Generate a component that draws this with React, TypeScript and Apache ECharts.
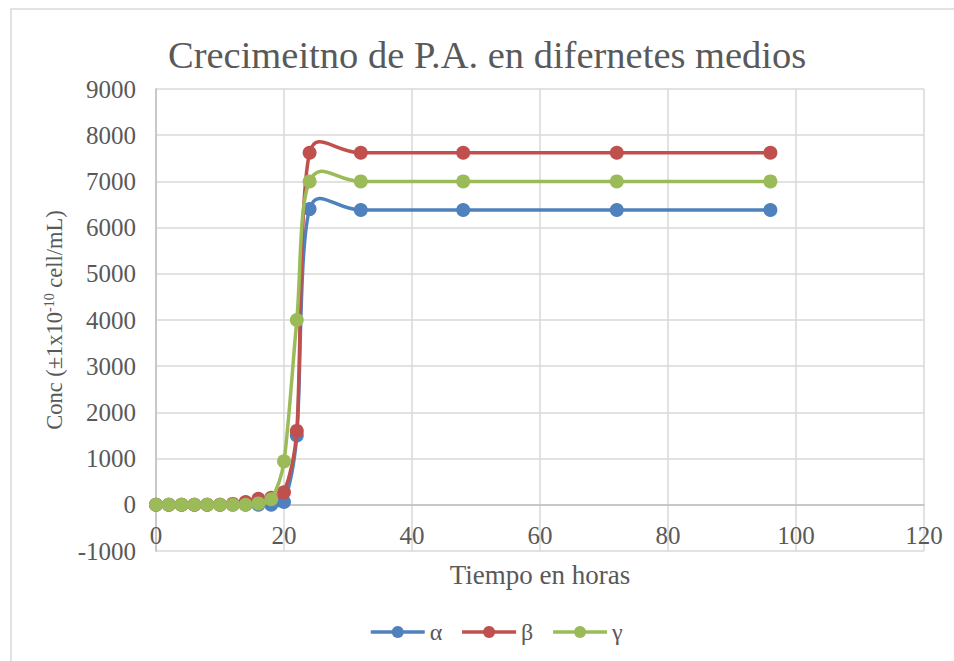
import React, { useEffect, useRef } from "react";
import * as echarts from "echarts";

const hours = [0, 2, 4, 6, 8, 10, 12, 14, 16, 18, 20, 22, 24, 32, 48, 72, 96];
const alpha = [0, 0, 0, 0, 0, 0, 0, 0, 0, 0, 60, 1500, 6400, 6380, 6380, 6380, 6380];
const beta = [0, 0, 0, 0, 0, 0, 20, 60, 130, 150, 270, 1600, 7620, 7620, 7620, 7620, 7620];
const gamma = [0, 0, 0, 0, 0, 0, 0, 0, 30, 120, 940, 4000, 7000, 7000, 7000, 7000, 7000];
const seriesNames = ["α", "β", "γ"];
const colors = ["#4F81BD", "#C0504D", "#9BBB59"];

const FONT = "'Liberation Serif', serif";
const TXT = "#595959";
const Y_MIN = -1000;
const Y_MAX = 9000;
const GRID = { left: 156, right: 30, top: 89, bottom: 110 };
const CHART_H = 661;

export default function App() {
  const ref = useRef<HTMLDivElement>(null);
  useEffect(() => {
    if (!ref.current) return;
    const chart = echarts.init(ref.current, undefined, { renderer: "svg" });
    const all = [alpha, beta, gamma];
    const mk = (vals: number[]) => hours.map((h, i) => [h, vals[i]]);

    // Excel-like smoothed line: Catmull-Rom tension 1/6, arm capped at half segment
    const arm = (from: number[], to: number[], seg: number) => {
      let ax = (to[0] - from[0]) / 6;
      let ay = (to[1] - from[1]) / 6;
      const len = Math.hypot(ax, ay);
      if (len > seg / 2 && len > 0) {
        const s = seg / 2 / len;
        ax *= s;
        ay *= s;
      }
      return [ax, ay];
    };

    const curveSeries = all.map((vals, si) => ({
      name: seriesNames[si] + "-curve",
      type: "custom",
      z: 2 + 2 * si,
      silent: true,
      data: mk(vals),
      encode: { x: 0, y: 1 },
      renderItem: (params: any, api: any) => {
        const i = params.dataIndex;
        const n = hours.length;
        if (i >= n - 1) return null;
        const P = hours.map((h, j) => api.coord([h, vals[j]]));
        const p0 = P[Math.max(i - 1, 0)];
        const p1 = P[i];
        const p2 = P[i + 1];
        const p3 = P[Math.min(i + 2, n - 1)];
        const seg = Math.hypot(p2[0] - p1[0], p2[1] - p1[1]);
        const a1 = arm(p0, p2, seg);
        const a2 = arm(p1, p3, seg);
        return {
          type: "bezierCurve",
          shape: {
            x1: p1[0],
            y1: p1[1],
            x2: p2[0],
            y2: p2[1],
            cpx1: p1[0] + a1[0],
            cpy1: p1[1] + a1[1],
            cpx2: p2[0] - a2[0],
            cpy2: p2[1] - a2[1],
          },
          style: { fill: "none", stroke: colors[si], lineWidth: 3.5, lineCap: "round" },
        };
      },
    }));

    const markerSeries = all.map((vals, si) => ({
      name: seriesNames[si],
      type: "line",
      data: mk(vals),
      z: 3 + 2 * si,
      symbol: "circle",
      symbolSize: 14,
      itemStyle: { color: colors[si] },
      lineStyle: { color: colors[si], width: 3.5, opacity: 0 },
    }));

    // place the x axis line at y = 0 (Excel style crossing)
    const plotH = CHART_H - GRID.top - GRID.bottom;
    const zeroOffset = -(plotH * (0 - Y_MIN)) / (Y_MAX - Y_MIN);

    chart.setOption({
      animation: false,
      backgroundColor: "#fff",
      textStyle: { fontFamily: FONT, color: TXT },
      graphic: [
        {
          type: "rect",
          shape: { x: 11, y: 9, width: 960, height: 670 },
          style: { fill: "none", stroke: "#D9D9D9", lineWidth: 1.5 },
          silent: true,
        },
      ],
      title: {
        text: "Crecimeitno de P.A. en difernetes medios",
        left: 168,
        top: 35,
        padding: 0,
        textStyle: { fontFamily: FONT, fontSize: 38.5, fontWeight: "normal", color: TXT },
      },
      legend: {
        data: seriesNames.map((nm, i) => ({
          name: nm,
          itemStyle: { color: colors[i] },
          lineStyle: { color: colors[i], width: 3.5, opacity: 1 },
        })),
        left: 364,
        top: 615,
        itemWidth: 54,
        itemHeight: 15,
        itemGap: 18,
        textStyle: { fontFamily: FONT, fontSize: 24, color: TXT },
      },
      grid: GRID,
      xAxis: {
        type: "value",
        min: 0,
        max: 120,
        interval: 20,
        offset: zeroOffset,
        name: "Tiempo en horas",
        nameLocation: "middle",
        nameGap: 57,
        nameTextStyle: { fontFamily: FONT, fontSize: 27, color: TXT },
        axisLine: { onZero: false, lineStyle: { color: "#BFBFBF", width: 1.5 } },
        axisTick: { show: false },
        axisLabel: { fontFamily: FONT, fontSize: 25, color: TXT, margin: 18 },
        splitLine: { show: true, lineStyle: { color: "#D9D9D9", width: 1.5 } },
      },
      yAxis: {
        type: "value",
        min: Y_MIN,
        max: Y_MAX,
        interval: 1000,
        name: "{n|Conc (±1x10}{sup|-10}{n| cell/mL)}",
        nameLocation: "middle",
        nameGap: 90,
        nameTextStyle: {
          fontFamily: FONT,
          fontSize: 22.5,
          color: TXT,
          rich: {
            n: { fontFamily: FONT, fontSize: 22.5, color: TXT },
            sup: { fontFamily: FONT, fontSize: 14, color: TXT, verticalAlign: "top", padding: [0, 0, 10, 0] },
          },
        },
        axisLine: { show: true, onZero: false, lineStyle: { color: "#BFBFBF", width: 1.5 } },
        axisTick: { show: false },
        axisLabel: {
          fontFamily: FONT,
          fontSize: 25,
          color: TXT,
          margin: 20,
          formatter: (v: number) => String(v),
        },
        splitLine: { show: true, lineStyle: { color: "#D9D9D9", width: 1.5 } },
      },
      series: [...curveSeries, ...markerSeries],
    });
    return () => chart.dispose();
  }, []);
  return (
    <div
      ref={ref}
      style={{ position: "fixed", left: 0, top: 0, width: 954, height: 661 }}
    />
  );
}
